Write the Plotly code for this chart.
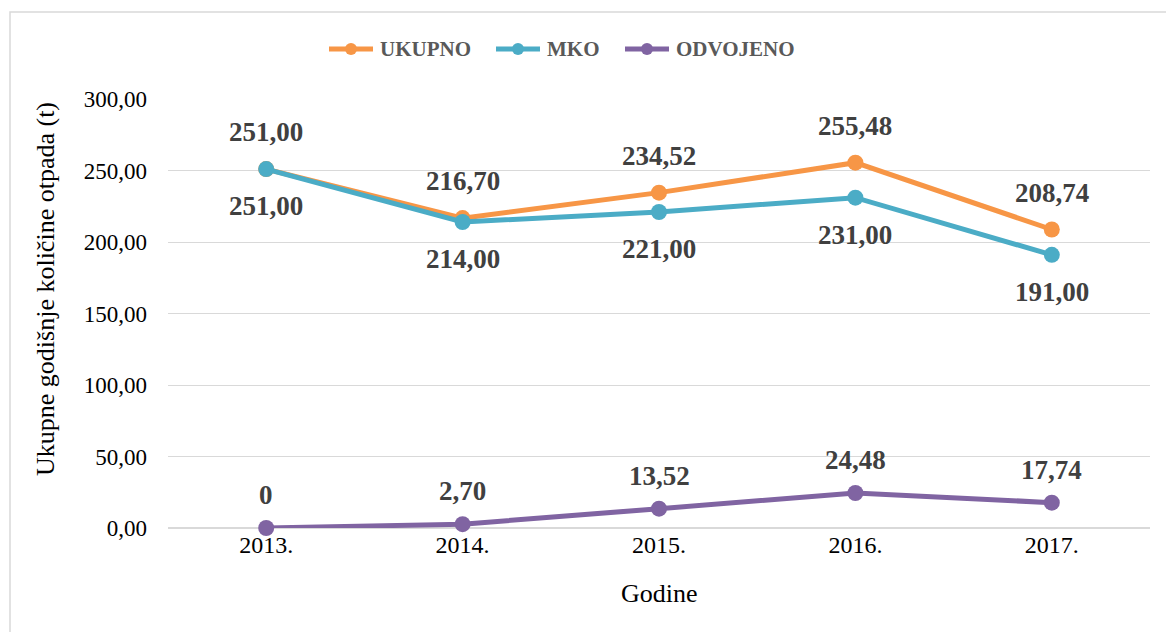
import plotly.graph_objects as go

years = ["2013.", "2014.", "2015.", "2016.", "2017."]
ukupno = [251.00, 216.70, 234.52, 255.48, 208.74]
mko = [251.00, 214.00, 221.00, 231.00, 191.00]
odvojeno = [0.00, 2.70, 13.52, 24.48, 17.74]
ukupno_lbl = ["251,00", "216,70", "234,52", "255,48", "208,74"]
mko_lbl = ["251,00", "214,00", "221,00", "231,00", "191,00"]
odvojeno_lbl = ["0", "2,70", "13,52", "24,48", "17,74"]

series = [
    ("UKUPNO", ukupno, ukupno_lbl, "#F79646", 37),
    ("MKO", mko, mko_lbl, "#4BACC6", -37),
    ("ODVOJENO", odvojeno, odvojeno_lbl, "#8064A2", 33),
]

FONT = "Liberation Serif, Times New Roman, serif"
L, R, T, B, W, H = 168, 16, 99, 104, 1166, 632
PW, PH = W - L - R, H - T - B


def px2x(px):
    return (px - L) / PW


def py2y(py):
    return (H - B - py) / PH


fig = go.Figure()
annotations = []
shapes = []
for name, vals, lbls, col, shift in series:
    fig.add_trace(go.Scatter(
        x=years, y=vals, name=name, mode="lines+markers",
        line=dict(color=col, width=5),
        marker=dict(color=col, size=16),
        hoverinfo="skip", showlegend=False, cliponaxis=False,
    ))
    for i, (yv, t) in enumerate(zip(vals, lbls)):
        annotations.append(dict(
            x=i, y=yv, text=f"<b>{t}</b>", showarrow=False,
            yshift=shift, xref="x", yref="y",
            font=dict(family=FONT, size=27, color="#404040"),
        ))

# custom legend (line + marker symbol and bold label)
legend_starts = [327, 494, 623]
ly = 49
for (name, _, _, col, _), sx in zip(series, legend_starts):
    shapes.append(dict(
        type="line", xref="paper", yref="paper",
        x0=px2x(sx + 2), x1=px2x(sx + 46), y0=py2y(ly), y1=py2y(ly),
        line=dict(color=col, width=5),
    ))
    cx = sx + 24
    shapes.append(dict(
        type="circle", xref="paper", yref="paper",
        x0=px2x(cx - 6), x1=px2x(cx + 6), y0=py2y(ly + 6), y1=py2y(ly - 6),
        line=dict(color=col, width=0), fillcolor=col,
    ))
    annotations.append(dict(
        x=px2x(sx + 51), y=py2y(ly), xref="paper", yref="paper",
        text=f"<b>{name}</b>", showarrow=False, xanchor="left", yanchor="middle",
        font=dict(family=FONT, size=21, color="#595959"),
    ))

annotations.append(dict(
    x=0.5, y=py2y(593), xref="paper", yref="paper", text="Godine",
    showarrow=False, yanchor="middle",
    font=dict(family=FONT, size=26, color="#000000"),
))
annotations.append(dict(
    x=px2x(45), y=py2y(289), xref="paper", yref="paper",
    text="Ukupne godišnje količine otpada (t)", textangle=-90,
    showarrow=False, xanchor="center", yanchor="middle",
    font=dict(family=FONT, size=26, color="#000000"),
))

shapes.append(dict(
    type="rect", xref="paper", yref="paper",
    x0=px2x(10), x1=px2x(1200), y0=py2y(700), y1=py2y(12),
    line=dict(color="#D9D9D9", width=1.5), fillcolor="rgba(0,0,0,0)",
    layer="below",
))

fig.update_layout(
    width=W, height=H,
    margin=dict(l=L, r=R, t=T, b=B),
    paper_bgcolor="white", plot_bgcolor="white",
    separators=",.",
    font=dict(family=FONT, size=23, color="#000000"),
    showlegend=False,
    xaxis=dict(
        type="category", showgrid=False, showline=False, zeroline=False,
        ticks="", tickfont=dict(family=FONT, size=24, color="#000000"),
        range=[-0.5, 4.5],
    ),
    yaxis=dict(
        range=[0, 300], dtick=50, tickformat=".2f",
        showgrid=True, gridcolor="#D9D9D9", gridwidth=1.3,
        zeroline=True, zerolinecolor="#D9D9D9", zerolinewidth=2,
        showline=False, ticks="", ticklabelstandoff=20,
        tickfont=dict(family=FONT, size=23, color="#000000"),
    ),
    annotations=annotations,
    shapes=shapes,
)

fig.write_html("out.html", config={"displayModeBar": False},
               post_script="document.body.style.margin='0';")
